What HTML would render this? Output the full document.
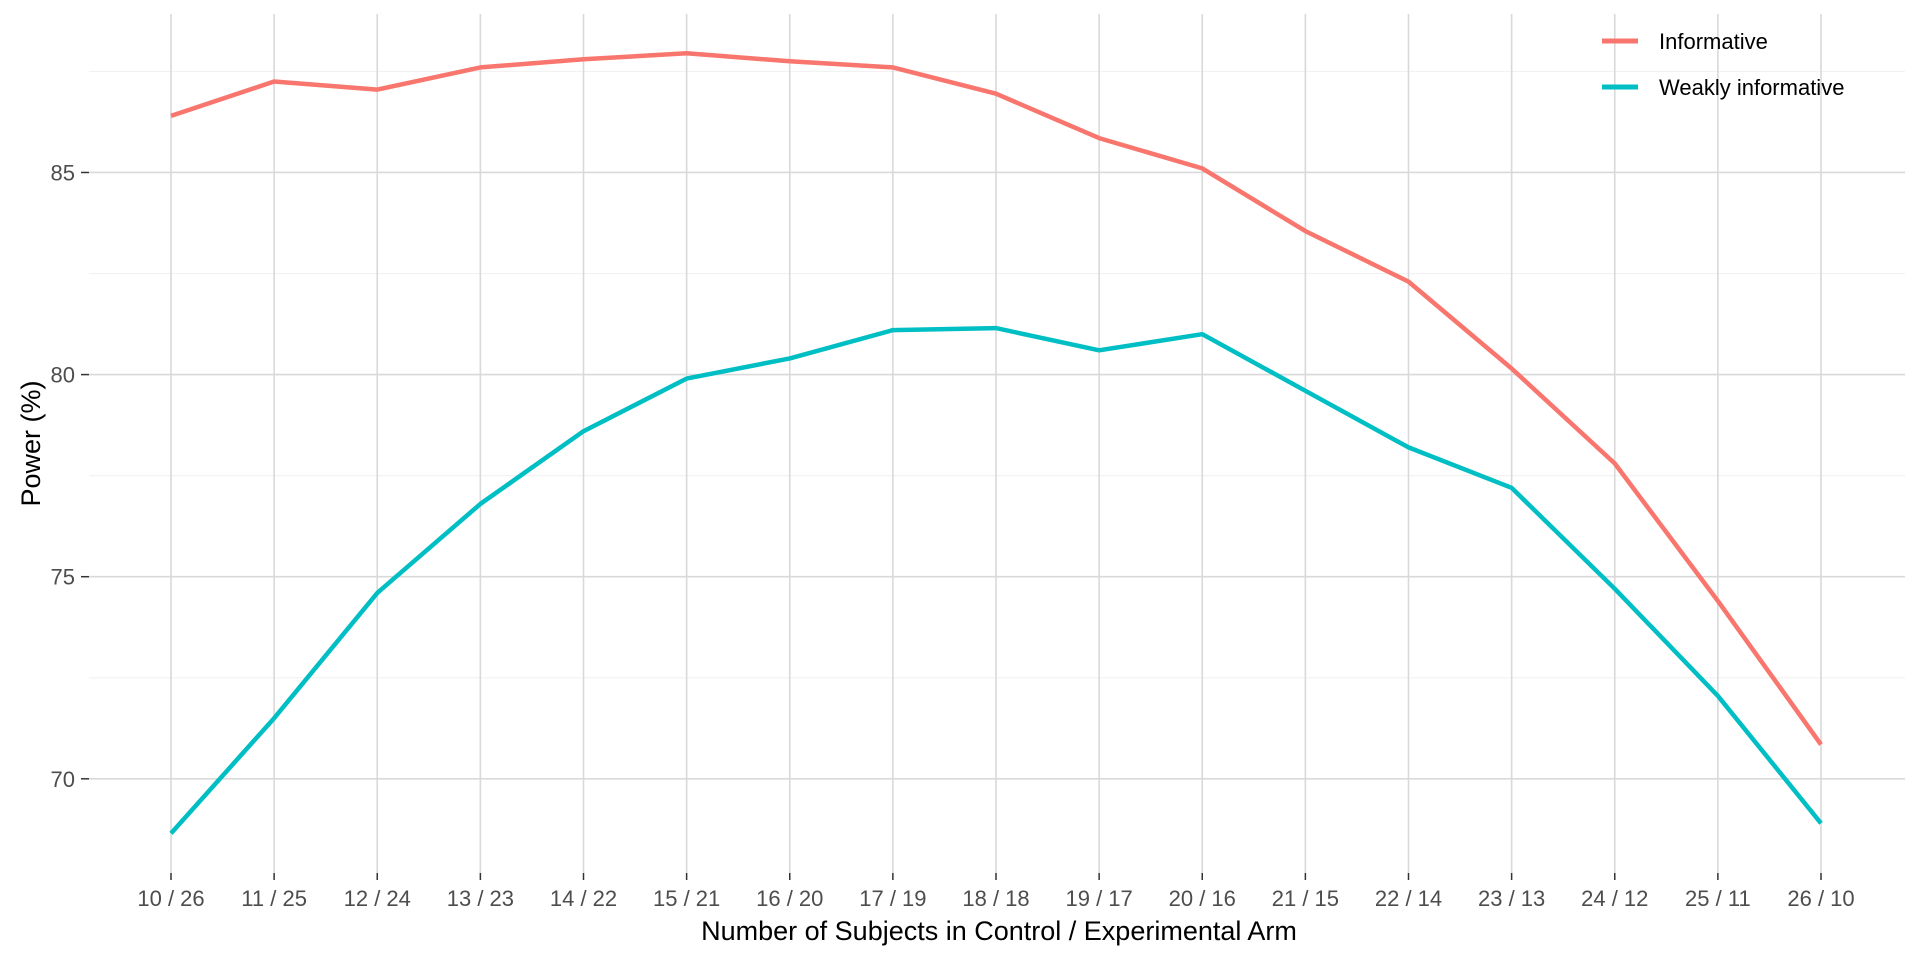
<!DOCTYPE html>
<html><head><meta charset="utf-8"><style>
html,body{margin:0;padding:0;background:#fff;}
svg{display:block;font-family:"Liberation Sans",Arial,sans-serif;}
</style></head><body>
<svg id="chart" width="1920" height="960" viewBox="0 0 1920 960" xmlns="http://www.w3.org/2000/svg"></svg>
<script>
const categories = ["10 / 26","11 / 25","12 / 24","13 / 23","14 / 22","15 / 21","16 / 20","17 / 19","18 / 18","19 / 17","20 / 16","21 / 15","22 / 14","23 / 13","24 / 12","25 / 11","26 / 10"];
const informative = [86.4,87.25,87.05,87.6,87.8,87.95,87.75,87.6,86.95,85.85,85.1,83.55,82.3,80.15,77.8,74.4,70.85];
const weaklyInformative = [68.65,71.5,74.6,76.8,78.6,79.9,80.4,81.1,81.15,80.6,81.0,79.6,78.2,77.2,74.7,72.05,68.9];
const yTicks = [70,75,80,85];
const yMinor = [72.5,77.5,82.5,87.5];
const seriesNames = ["Informative","Weakly informative"];

const NS="http://www.w3.org/2000/svg";
const svg=document.getElementById('chart');
const L=89,R=1905,T=14,B=873;
const x0=171,x1=1821;
function xs(i){return x0+(x1-x0)*i/(categories.length-1);}
const yTop=88.97,yBot=67.67;
function ys(v){return 12+(yTop-v)/(yTop-yBot)*(B-12);}
function mk(tag,attrs,parent){const e=document.createElementNS(NS,tag);for(const k in attrs)e.setAttribute(k,attrs[k]);(parent||svg).appendChild(e);return e;}

const grid=mk('g',{});


yMinor.forEach(v=>{mk('line',{x1:L,x2:R,y1:ys(v),y2:ys(v),stroke:'#f2f2f2','stroke-width':1.2},grid);});
yTicks.forEach(v=>{mk('line',{x1:L,x2:R,y1:ys(v),y2:ys(v),stroke:'#d9d9d9','stroke-width':1.6},grid);});
categories.forEach((c,i)=>{mk('line',{x1:xs(i),x2:xs(i),y1:T,y2:B,stroke:'#d9d9d9','stroke-width':1.6},grid);});

const yAxis=mk('g',{});


yTicks.forEach(v=>{
  mk('line',{x1:L-8,x2:L,y1:ys(v),y2:ys(v),stroke:'#333','stroke-width':1.5},yAxis);
  const t=mk('text',{x:L-14,y:ys(v)+8,'text-anchor':'end','font-size':22,fill:'#4d4d4d'},yAxis);
  t.textContent=v;
  
  
});
const xAxis=mk('g',{});


categories.forEach((c,i)=>{
  mk('line',{x1:xs(i),x2:xs(i),y1:B,y2:B+7,stroke:'#333','stroke-width':1.5},xAxis);
  const t=mk('text',{x:xs(i),y:B+33,'text-anchor':'middle','font-size':22,fill:'#4d4d4d'},xAxis);
  t.textContent=c;
  
  
});
const xt=mk('text',{x:999,y:940,'text-anchor':'middle','font-size':27,fill:'#000'});
xt.textContent='Number of Subjects in Control / Experimental Arm';


const yt=mk('text',{x:0,y:0,'text-anchor':'middle','font-size':27,fill:'#000',transform:`translate(40,${(T+B)/2}) rotate(-90)`});
yt.textContent='Power (%)';



const colors=['#F8766D','#00BFC4'];
[informative,weaklyInformative].forEach((arr,s)=>{
  const d=arr.map((v,i)=>(i?'L':'M')+xs(i).toFixed(1)+' '+ys(v).toFixed(1)).join(' ');
  const p=mk('path',{d:d,fill:'none',stroke:colors[s],'stroke-width':4.5,'stroke-linejoin':'round'});
  
  
});

const leg=mk('g',{});


seriesNames.forEach((n,s)=>{
  const y=41+s*46;
  const e=mk('g',{},leg);
  
  
  mk('line',{x1:1602,x2:1638,y1:y,y2:y,stroke:colors[s],'stroke-width':5},e);
  const t=mk('text',{x:1659,y:y+8,'font-size':22,fill:'#000'},e);
  t.textContent=n;
});
</script>
</body></html>
